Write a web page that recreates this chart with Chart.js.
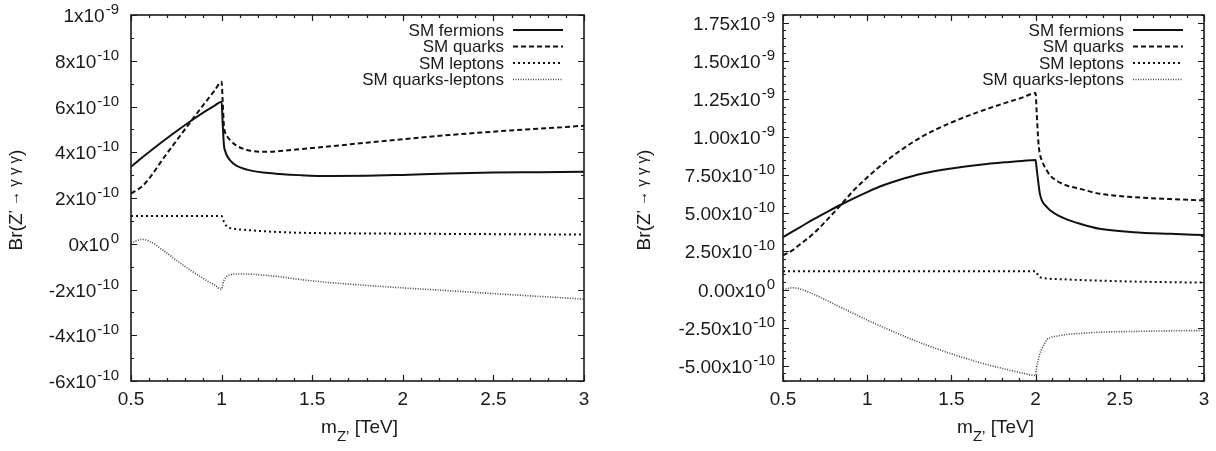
<!DOCTYPE html>
<html>
<head>
<meta charset="utf-8">
<script src="https://cdn.jsdelivr.net/npm/chart.js@4.4.0/dist/chart.umd.min.js"></script>
<style>
  body { margin: 0; background: #fff; }
  #wrap { position: relative; width: 1216px; height: 451px; }
  canvas { position: absolute; top: 0; }
  #left { left: 0; }
  #right { left: 608px; }
</style>
</head>
<body>
<div id="wrap">
  <canvas id="left" width="608" height="451"></canvas>
  <canvas id="right" width="608" height="451"></canvas>
</div>
<script>
// all branching ratios below are in units of 1e-10

// left panel, threshold at 1 TeV
const xLeft = [0.5, 0.56, 0.6, 0.68, 0.76, 0.84, 0.92, 0.96, 1.0, 1.006, 1.013, 1.02, 1.03, 1.046, 1.08, 1.14, 1.23, 1.32, 1.43, 1.6, 1.8, 2.0, 2.25, 2.5, 2.75, 3.0];
const fermionsLeft = [3.37, 3.76, 4.01, 4.5, 4.97, 5.42, 5.84, 6.03, 6.21, 5.25, 4.3, 4.05, 3.85, 3.66, 3.42, 3.24, 3.11, 3.05, 3.0, 2.96, 2.97, 3.01, 3.07, 3.11, 3.13, 3.15];
const quarksLeft = [2.2, 2.5, 2.85, 3.75, 4.6, 5.45, 6.28, 6.68, 7.08, 6.2, 5.15, 4.85, 4.7, 4.54, 4.3, 4.1, 4.02, 4.05, 4.13, 4.26, 4.42, 4.57, 4.75, 4.9, 5.03, 5.16];
const leptonsLeft = [1.21, 1.21, 1.21, 1.21, 1.21, 1.21, 1.21, 1.21, 1.21, 1.1, 0.96, 0.85, 0.75, 0.69, 0.64, 0.6, 0.55, 0.51, 0.48, 0.46, 0.45, 0.44, 0.43, 0.42, 0.41, 0.4];
const mixedLeft = [0.02, 0.19, 0.12, -0.3, -0.78, -1.22, -1.62, -1.8, -1.99, -1.8, -1.6, -1.5, -1.41, -1.36, -1.32, -1.32, -1.37, -1.44, -1.56, -1.7, -1.82, -1.93, -2.05, -2.18, -2.3, -2.42];

// right panel, threshold at 2 TeV
const xRight = [0.5, 0.56, 0.6, 0.68, 0.76, 0.84, 0.92, 1.0, 1.1, 1.18, 1.33, 1.5, 1.67, 1.83, 1.92, 2.0, 2.006, 2.017, 2.025, 2.037, 2.067, 2.086, 2.13, 2.185, 2.264, 2.38, 2.58, 2.8, 3.0];
const fermionsRight = [3.43, 3.83, 4.08, 4.6, 5.08, 5.54, 5.98, 6.39, 6.85, 7.15, 7.6, 7.93, 8.18, 8.35, 8.43, 8.5, 7.95, 6.95, 6.3, 5.85, 5.4, 5.2, 4.88, 4.6, 4.31, 3.98, 3.76, 3.65, 3.57];
const quarksRight = [2.23, 2.6, 2.95, 3.65, 4.55, 5.51, 6.5, 7.35, 8.3, 8.98, 10.05, 10.95, 11.68, 12.27, 12.58, 12.88, 11.7, 9.6, 8.9, 8.46, 7.8, 7.48, 7.1, 6.82, 6.6, 6.28, 6.06, 5.93, 5.84];
const leptonsRight = [1.2, 1.2, 1.2, 1.2, 1.2, 1.2, 1.2, 1.2, 1.2, 1.2, 1.2, 1.2, 1.2, 1.2, 1.2, 1.2, 1.1, 0.9, 0.81, 0.77, 0.72, 0.7, 0.68, 0.66, 0.62, 0.58, 0.52, 0.48, 0.45];
const mixedRight = [0.0, 0.11, 0.04, -0.3, -0.72, -1.15, -1.58, -2.0, -2.5, -2.88, -3.55, -4.22, -4.8, -5.25, -5.48, -5.64, -5.1, -4.6, -4.22, -3.9, -3.3, -3.15, -3.05, -2.95, -2.88, -2.8, -2.75, -2.71, -2.69];

const seriesNames = ['SM fermions', 'SM quarks', 'SM leptons', 'SM quarks-leptons'];

// tick labels
const xTicks = [0.5, 1, 1.5, 2, 2.5, 3];
const xTickText = ['0.5', '1', '1.5', '2', '2.5', '3'];
const yTicksLeft = [-6, -4, -2, 0, 2, 4, 6, 8, 10];
const yMantLeft = ['-6', '-4', '-2', '0', '2', '4', '6', '8', '1'];
const yExpLeft = ['-10', '-10', '-10', '0', '-10', '-10', '-10', '-10', '-9'];
const yTicksRight = [-5, -2.5, 0, 2.5, 5, 7.5, 10, 12.5, 15, 17.5];
const yMantRight = ['-5.00', '-2.50', '0.00', '2.50', '5.00', '7.50', '1.00', '1.25', '1.50', '1.75'];
const yExpRight = ['-10', '-10', '0', '-10', '-10', '-10', '-9', '-9', '-9', '-9'];

const FONT = '"Liberation Sans", Arial, Helvetica, sans-serif';
const styles = [
  { color: '#111', width: 2, dash: [] },
  { color: '#111', width: 2, dash: [5, 3] },
  { color: '#111', width: 2, dash: [2, 3] },
  { color: '#444', width: 1.6, dash: [1, 1.5] }
];

// frame, inward ticks on all sides, tick labels, titles and key, gnuplot style
const gnuplotBox = {
  id: 'gnuplotBox',
  afterDraw(chart, args, o) {
    const ctx = chart.ctx;
    const a = chart.chartArea;
    const xs = chart.scales.x, ys = chart.scales.y;
    ctx.save();
    ctx.strokeStyle = '#1a1a1a';
    ctx.fillStyle = '#1a1a1a';
    ctx.lineWidth = 1.2;
    ctx.setLineDash([]);

    ctx.beginPath();
    // x ticks
    for (let v = 0.5; v <= 3.0001; v += 0.1) {
      const px = Math.round(xs.getPixelForValue(v)) + 0.5;
      const major = Math.abs(v * 2 - Math.round(v * 2)) < 1e-6;
      const len = major ? 6 : 3;
      ctx.moveTo(px, a.bottom); ctx.lineTo(px, a.bottom - len);
      ctx.moveTo(px, a.top); ctx.lineTo(px, a.top + len);
    }
    // y ticks
    const yMin = ys.min, yMax = ys.max;
    for (let k = Math.ceil(yMin / o.minorStep); k * o.minorStep <= yMax + 1e-6; k++) {
      const v = k * o.minorStep;
      const py = Math.round(ys.getPixelForValue(v)) + 0.5;
      const major = Math.abs(v / o.majorStep - Math.round(v / o.majorStep)) < 1e-6;
      const len = major ? 6 : 3;
      ctx.moveTo(a.left, py); ctx.lineTo(a.left + len, py);
      ctx.moveTo(a.right, py); ctx.lineTo(a.right - len, py);
    }
    ctx.stroke();

    // frame
    ctx.lineWidth = 1.6;
    ctx.strokeRect(a.left, a.top, a.right - a.left, a.bottom - a.top);

    // x tick labels
    ctx.font = '19px ' + FONT;
    ctx.textAlign = 'center';
    ctx.textBaseline = 'middle';
    xTicks.forEach((v, i) => {
      ctx.fillText(xTickText[i], xs.getPixelForValue(v), a.bottom + 19);
    });

    // y tick labels with exponent
    o.yTicks.forEach((v, i) => {
      const py = ys.getPixelForValue(v);
      ctx.font = '19px ' + FONT;
      const main = o.yMant[i] + 'x10';
      const w1 = ctx.measureText(main).width;
      ctx.font = '15px ' + FONT;
      const w2 = ctx.measureText(o.yExp[i]).width;
      const x0 = a.left - o.labelGap - w1 - w2 - 1;
      ctx.textAlign = 'left';
      ctx.textBaseline = 'alphabetic';
      ctx.font = '19px ' + FONT;
      ctx.fillText(main, x0, py + 7);
      ctx.font = '15px ' + FONT;
      ctx.fillText(o.yExp[i], x0 + w1 + 1, py - 1);
    });

    // x title: m_Z' [TeV]
    ctx.textBaseline = 'alphabetic';
    ctx.textAlign = 'left';
    const cx = (a.left + a.right) / 2;
    const parts = [['m', 19, 0], ['Z\u2019', 15, 8], [' [TeV]', 19, 0]];
    let total = 0;
    parts.forEach(p => { ctx.font = p[1] + 'px ' + FONT; total += ctx.measureText(p[0]).width; });
    let tx = cx - total / 2 + 2;
    parts.forEach(p => {
      ctx.font = p[1] + 'px ' + FONT;
      ctx.fillText(p[0], tx, 433 + p[2]);
      tx += ctx.measureText(p[0]).width;
    });

    // y title: Br(Z' -> γγγ)
    ctx.save();
    ctx.translate(o.titleX, (a.top + a.bottom) / 2 + 2);
    ctx.rotate(-Math.PI / 2);
    const yparts = [['Br(Z', 19, 0], ['\u2019 \u2192 \u03b3 \u03b3 \u03b3', 15, -3], [')', 19, 0]];
    total = 0;
    yparts.forEach(p => { ctx.font = p[1] + 'px ' + FONT; total += ctx.measureText(p[0]).width; });
    tx = -total / 2;
    yparts.forEach(p => {
      ctx.font = p[1] + 'px ' + FONT;
      ctx.fillText(p[0], tx, p[2]);
      tx += ctx.measureText(p[0]).width;
    });
    ctx.restore();

    // key
    ctx.font = '17px ' + FONT;
    ctx.textAlign = 'right';
    ctx.textBaseline = 'middle';
    chart.data.datasets.forEach((ds, i) => {
      const ry = a.top + 15 + i * 16.5;
      ctx.fillStyle = '#1a1a1a';
      ctx.fillText(ds.label, a.right - 80, ry + 1);
      ctx.beginPath();
      ctx.strokeStyle = ds.borderColor;
      ctx.lineWidth = ds.borderWidth;
      ctx.setLineDash(ds.borderDash);
      ctx.moveTo(a.right - 71, ry);
      ctx.lineTo(a.right - 21, ry);
      ctx.stroke();
    });
    ctx.restore();
  }
};

function makeDatasets(xv, series) {
  return series.map((vals, i) => ({
    label: seriesNames[i],
    data: xv.map((x, j) => ({ x: x, y: vals[j] })),
    borderColor: styles[i].color,
    borderWidth: styles[i].width,
    borderDash: styles[i].dash,
    pointRadius: 0,
    fill: false,
    cubicInterpolationMode: 'monotone'
  }));
}

function makeChart(id, xv, series, yMin, yMax, pad, box) {
  return new Chart(document.getElementById(id), {
    type: 'line',
    data: { datasets: makeDatasets(xv, series) },
    options: {
      responsive: false,
      animation: false,
      devicePixelRatio: 1,
      layout: { padding: pad },
      scales: {
        x: { type: 'linear', min: 0.5, max: 3, display: false },
        y: { type: 'linear', min: yMin, max: yMax, display: false }
      },
      plugins: {
        legend: { display: false },
        tooltip: { enabled: false },
        gnuplotBox: box
      }
    },
    plugins: [gnuplotBox]
  });
}

makeChart('left', xLeft, [fermionsLeft, quarksLeft, leptonsLeft, mixedLeft], -6, 10,
  { left: 131, top: 15, right: 24, bottom: 70 },
  { yTicks: yTicksLeft, yMant: yMantLeft, yExp: yExpLeft, majorStep: 2, minorStep: 1, labelGap: 12, titleX: 22 });

makeChart('right', xRight, [fermionsRight, quarksRight, leptonsRight, mixedRight], -6, 18,
  { left: 175, top: 15, right: 12, bottom: 70 },
  { yTicks: yTicksRight, yMant: yMantRight, yExp: yExpRight, majorStep: 2.5, minorStep: 0.5, labelGap: 8, titleX: 42 });
</script>
</body>
</html>
